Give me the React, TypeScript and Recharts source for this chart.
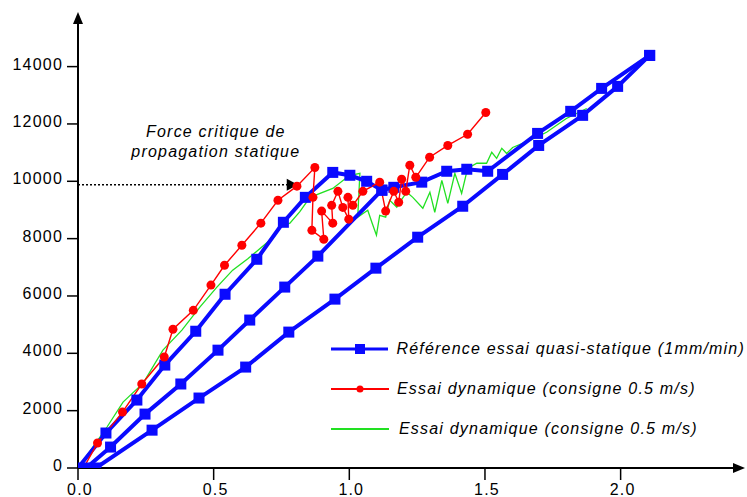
import { LineChart, Line, XAxis, YAxis, Legend, ReferenceLine, ReferenceDot } from "recharts"

// ---- Référence essai quasi-statique (1mm/min) : montée, puis deux décharges ----
const refLoadX = [0, 0.103, 0.217, 0.32, 0.434, 0.542, 0.659, 0.757, 0.838, 0.939, 1.002, 1.064, 1.12, 1.164, 1.267, 1.359, 1.433, 1.51, 1.694, 1.816, 1.93, 2.107]
const refLoadY = [0, 1220, 2370, 3590, 4770, 6060, 7280, 8570, 9440, 10310, 10210, 10000, 9690, 9790, 9970, 10350, 10420, 10350, 11670, 12440, 13240, 14390]

const refUnloadAX = [1.12, 0.884, 0.762, 0.633, 0.516, 0.379, 0.247, 0.12, 0.03]
const refUnloadAY = [9690, 7390, 6310, 5160, 4110, 2930, 1880, 730, 0]

const refUnloadBX = [2.107, 1.989, 1.86, 1.698, 1.565, 1.418, 1.252, 1.098, 0.947, 0.777, 0.618, 0.446, 0.273, 0.066]
const refUnloadBY = [14390, 13310, 12300, 11250, 10240, 9130, 8050, 6970, 5890, 4740, 3520, 2440, 1320, 0]

// ---- Essai dynamique (rouge, avec marqueurs) ----
const dynRedX = [0.02, 0.072, 0.164, 0.235, 0.318, 0.35, 0.425, 0.49, 0.54, 0.604, 0.674, 0.737, 0.807, 0.873, 0.866, 0.862, 0.906, 0.898, 0.939, 0.935, 0.958, 0.976, 0.998, 0.995, 1.013, 1.05, 1.112, 1.134, 1.164, 1.182, 1.193, 1.208, 1.223, 1.245, 1.296, 1.363, 1.436, 1.503]
const dynRedY = [0, 870, 1950, 2930, 3870, 4840, 5500, 6380, 7070, 7770, 8540, 9340, 9830, 10480, 9440, 8290, 7980, 8960, 8540, 9160, 9650, 9090, 8680, 9440, 9160, 9650, 9970, 8960, 9650, 9270, 10070, 9650, 10560, 10140, 10840, 11250, 11640, 12400]

// ---- Essai dynamique (vert, sans marqueur) ----
const dynGreenX = [0, 0.107, 0.166, 0.24, 0.313, 0.383, 0.449, 0.512, 0.57, 0.626, 0.707, 0.744, 0.781, 0.817, 0.855, 0.939, 1.0, 1.039, 1.031, 1.068, 1.083, 1.1, 1.112, 1.134, 1.149, 1.175, 1.186, 1.212, 1.234, 1.271, 1.297, 1.315, 1.341, 1.363, 1.389, 1.414, 1.436, 1.47, 1.506, 1.525, 1.543, 1.562, 1.58, 1.602, 1.665, 1.727, 1.8, 1.875]
const dynGreenY = [0, 1430, 2300, 2960, 4110, 4810, 5610, 6310, 6900, 7300, 7940, 8400, 8540, 8930, 9440, 9750, 10200, 10280, 8750, 8990, 8570, 8120, 8810, 8750, 9340, 9100, 9270, 9620, 9440, 9060, 9620, 8920, 10030, 9230, 10280, 9580, 10450, 10630, 10630, 11010, 10800, 11150, 10970, 11180, 11430, 11710, 12190, 12540]

const xTicks = [0, 0.5, 1, 1.5, 2]
const yTicks = [0, 2000, 4000, 6000, 8000, 10000, 12000, 14000]

const legendLabels = [
  "Référence essai quasi-statique (1mm/min)",
  "Essai dynamique (consigne 0.5 m/s)",
  "Essai dynamique (consigne 0.5 m/s)",
]
const annotationLines = ["Force critique de", "propagation statique"]
const criticalForce = 9880

const BLUE = "#0a0aff"
const RED = "#ff0000"
const GREEN = "#22e022"
const FONT = "'Liberation Sans', Arial, sans-serif"

const zip = (xs: number[], ys: number[]) => xs.map((x, i) => ({ x, y: ys[i] }))

const refLoad = zip(refLoadX, refLoadY)
const refUnloadA = zip(refUnloadAX, refUnloadAY)
const refUnloadB = zip(refUnloadBX, refUnloadBY)
const dynRed = zip(dynRedX, dynRedY)
const dynGreen = zip(dynGreenX, dynGreenY)

const squareDot = (p: any) => (
  <rect key={`sq-${p.index}-${p.cx}`} x={p.cx - 5.5} y={p.cy - 5.5} width={11} height={11} fill={BLUE} />
)

const circleDot = (p: any) =>
  p.index === 0 ? (
    <g key={`c-${p.index}`} />
  ) : (
    <circle key={`c-${p.index}`} cx={p.cx} cy={p.cy} r={4.5} fill={RED} />
  )

function YTick({ x, y, payload }: any) {
  return (
    <text x={x} y={y + 3} textAnchor="end" fontFamily={FONT} fontSize={16} letterSpacing={1.2} fill="#000">
      {payload.value}
    </text>
  )
}

function XTick({ x, y, payload }: any) {
  return (
    <text x={x + 2} y={y + 11} textAnchor="middle" fontFamily={FONT} fontSize={16} letterSpacing={1.2} fill="#000">
      {Number(payload.value).toFixed(1)}
    </text>
  )
}

function LegendBox() {
  const icons = [
    <svg width={58} height={12} key="b">
      <line x1={0} y1={6} x2={58} y2={6} stroke={BLUE} strokeWidth={3} />
      <rect x={24} y={1} width={10} height={10} fill={BLUE} />
    </svg>,
    <svg width={58} height={12} key="r">
      <line x1={0} y1={6} x2={58} y2={6} stroke={RED} strokeWidth={2} />
      <circle cx={29} cy={6} r={3.5} fill={RED} />
    </svg>,
    <svg width={58} height={12} key="g">
      <line x1={0} y1={6} x2={58} y2={6} stroke={GREEN} strokeWidth={2} />
    </svg>,
  ]
  return (
    <div style={{ fontFamily: FONT, fontStyle: "italic", fontSize: 16, letterSpacing: 1.2, color: "#000" }}>
      {legendLabels.map((label, i) => (
        <div key={i} style={{ display: "flex", alignItems: "center", height: 40, whiteSpace: "nowrap" }}>
          {icons[i]}
          <span style={{ marginLeft: i === 2 ? 10 : 8 }}>{label}</span>
        </div>
      ))}
    </div>
  )
}

export default function App() {
  return (
    <div style={{ position: "absolute", left: 0, top: 0, width: 747, height: 497, overflow: "hidden", background: "#fff" }}>
      <LineChart width={747} height={497} margin={{ top: 15, right: 7, bottom: 4, left: 8 }}>
        <XAxis
          type="number"
          dataKey="x"
          domain={[0, 2.44]}
          ticks={xTicks}
          tick={<XTick />}
          tickSize={12}
          tickMargin={4}
          height={25}
          axisLine={{ stroke: "#000", strokeWidth: 2 }}
          tickLine={{ stroke: "#000", strokeWidth: 1.5 }}
          allowDataOverflow
        />
        <YAxis
          type="number"
          dataKey="y"
          domain={[0, 15800]}
          ticks={yTicks}
          tick={<YTick />}
          tickSize={11}
          tickMargin={4}
          width={70}
          axisLine={{ stroke: "#000", strokeWidth: 2 }}
          tickLine={{ stroke: "#000", strokeWidth: 1.5 }}
          allowDataOverflow
        />

        <ReferenceLine
          segment={[{ x: 0, y: criticalForce }, { x: 0.775, y: criticalForce }]}
          stroke="#000"
          strokeWidth={1.5}
          strokeDasharray="2 2"
        />
        <ReferenceDot
          x={0.81}
          y={criticalForce}
          ifOverflow="visible"
          shape={(p: any) => (
            <polygon points={`${p.cx},${p.cy} ${p.cx - 11},${p.cy - 6} ${p.cx - 11},${p.cy + 6}`} fill="#000" />
          )}
        />
        <ReferenceDot
          x={0.508}
          y={11530}
          ifOverflow="visible"
          shape={(p: any) => (
            <text x={p.cx} y={p.cy} textAnchor="middle" fontFamily={FONT} fontStyle="italic" fontSize={16} letterSpacing={1.2} fill="#000">
              {annotationLines.map((l, i) => (
                <tspan key={i} x={p.cx} dy={i === 0 ? 0 : 20}>
                  {l}
                </tspan>
              ))}
            </text>
          )}
        />

        <Line data={dynGreen} dataKey="y" type="linear" stroke={GREEN} strokeWidth={1.3} dot={false} isAnimationActive={false} />
        <Line data={refUnloadB} dataKey="y" type="linear" stroke={BLUE} strokeWidth={4} dot={squareDot} isAnimationActive={false} />
        <Line data={refUnloadA} dataKey="y" type="linear" stroke={BLUE} strokeWidth={4} dot={squareDot} isAnimationActive={false} />
        <Line data={refLoad} dataKey="y" type="linear" stroke={BLUE} strokeWidth={4} dot={squareDot} isAnimationActive={false} />
        <Line data={dynRed} dataKey="y" type="linear" stroke={RED} strokeWidth={1.4} dot={circleDot} isAnimationActive={false} />

        {/* flèches des axes */}
        <ReferenceDot
          x={0}
          y={15800}
          ifOverflow="visible"
          shape={(p: any) => (
            <polygon points={`${p.cx},${p.cy - 3} ${p.cx - 5},${p.cy + 9} ${p.cx + 5},${p.cy + 9}`} fill="#000" />
          )}
        />
        <ReferenceDot
          x={2.44}
          y={0}
          ifOverflow="visible"
          shape={(p: any) => (
            <polygon points={`${p.cx + 5},${p.cy} ${p.cx - 7},${p.cy - 5} ${p.cx - 7},${p.cy + 5}`} fill="#000" />
          )}
        />

        <Legend
          layout="vertical"
          align="center"
          verticalAlign="middle"
          content={() => <LegendBox />}
          wrapperStyle={{ left: 331, top: 329, width: 414 }}
        />
      </LineChart>
    </div>
  )
}
